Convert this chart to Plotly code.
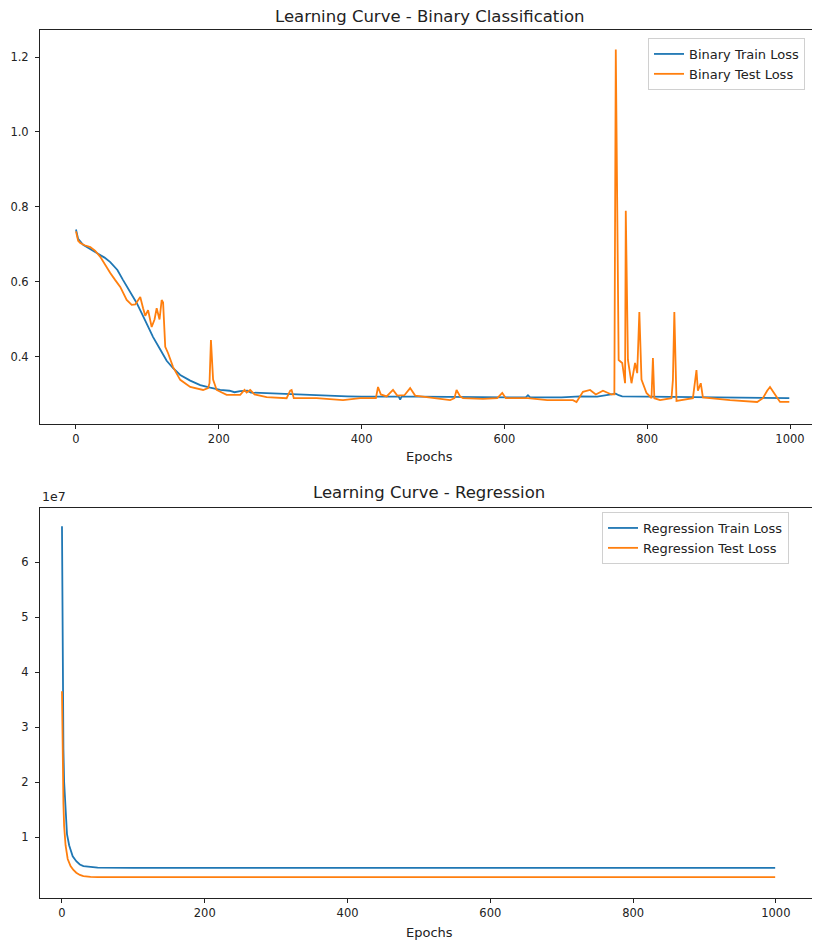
import plotly.graph_objects as go

# ---- Binary classification data ----
bin_train_epochs = [0, 3, 10, 20, 29, 40, 48, 58, 66, 75, 85, 95, 108, 118, 127, 136, 146, 160, 174, 188,
                    202, 215, 222, 230, 240, 245, 258, 280, 300, 320, 350, 380, 400, 430, 452, 454, 456, 480,
                    524, 560, 600, 630, 633, 636, 680, 706, 730, 756, 760, 765, 800, 840, 900, 950, 999]
bin_train_loss = [0.74, 0.715, 0.699, 0.688, 0.677, 0.665, 0.653, 0.632, 0.605, 0.577, 0.544, 0.505, 0.453,
                  0.42, 0.39, 0.37, 0.352, 0.337, 0.325, 0.318, 0.312, 0.31, 0.306, 0.309, 0.31, 0.305, 0.304,
                  0.302, 0.3, 0.298, 0.296, 0.295, 0.294, 0.294, 0.294, 0.286, 0.294, 0.294, 0.293, 0.293,
                  0.292, 0.292, 0.298, 0.292, 0.292, 0.295, 0.294, 0.302, 0.298, 0.295, 0.294, 0.293, 0.292,
                  0.291, 0.29]

bin_test_epochs = [0, 3, 6, 12, 20, 27, 34, 41, 48, 55, 62, 71, 78, 83, 87, 90, 94, 97, 101, 106, 110, 113,
                   117, 120, 122, 125, 129, 136, 146, 160, 178, 185, 187, 189, 192, 197, 211, 230, 236, 239,
                   244, 250, 267, 295, 300, 302, 305, 337, 374, 398, 420, 423, 427, 435, 444, 450, 460, 468,
                   475, 500, 524, 530, 533, 538, 542, 570, 590, 597, 602, 633, 660, 696, 701, 710, 720, 728,
                   738, 750, 754, 756, 760, 765, 769, 770, 773, 778, 783, 786, 789, 792, 799, 806, 808, 810,
                   818, 834, 836, 838, 841, 864, 867, 869, 871, 875, 878, 900, 916, 954, 962, 968, 972, 979,
                   986, 999]
bin_test_loss = [0.735, 0.71, 0.704, 0.698, 0.693, 0.683, 0.667, 0.645, 0.624, 0.605, 0.587, 0.552, 0.539,
                 0.54, 0.55, 0.56, 0.53, 0.51, 0.525, 0.48, 0.5, 0.53, 0.5, 0.552, 0.545, 0.427, 0.41, 0.373,
                 0.339, 0.32, 0.312, 0.317, 0.33, 0.445, 0.34, 0.312, 0.299, 0.299, 0.312, 0.305, 0.312, 0.3,
                 0.293, 0.29, 0.31, 0.312, 0.29, 0.29, 0.285, 0.29, 0.29, 0.32, 0.3, 0.295, 0.312, 0.297,
                 0.298, 0.317, 0.297, 0.29, 0.285, 0.29, 0.312, 0.295, 0.29, 0.288, 0.29, 0.304, 0.29, 0.29,
                 0.285, 0.285, 0.28, 0.307, 0.312, 0.3, 0.31, 0.3, 0.3, 1.22, 0.392, 0.384, 0.33, 0.79, 0.392,
                 0.33, 0.384, 0.357, 0.52, 0.34, 0.304, 0.29, 0.397, 0.29, 0.285, 0.29, 0.339, 0.52, 0.283,
                 0.29, 0.33, 0.365, 0.31, 0.33, 0.292, 0.287, 0.285, 0.28, 0.29, 0.31, 0.32, 0.3, 0.28, 0.28]

# ---- Regression data ----
reg_train_epochs = [0, 1, 2, 3, 4, 5, 7, 10, 15, 20, 25, 30, 40, 50, 100, 999]
reg_train_loss = [6.65e7, 4.0e7, 2.6e7, 2.0e7, 1.7e7, 1.45e7, 1.05e7, 0.85e7, 0.65e7, 0.56e7, 0.5e7,
                  0.47e7, 0.45e7, 0.443e7, 0.44e7, 0.44e7]
reg_test_epochs = [0, 1, 2, 3, 4, 5, 8, 12, 16, 20, 25, 30, 40, 50, 100, 999]
reg_test_loss = [3.65e7, 2.3e7, 1.6e7, 1.2e7, 0.98e7, 0.85e7, 0.6e7, 0.47e7, 0.4e7, 0.35e7, 0.31e7,
                 0.29e7, 0.275e7, 0.27e7, 0.27e7, 0.27e7]

top_yticks = [0.4, 0.6, 0.8, 1.0, 1.2]
top_yticklabels = ["0.4", "0.6", "0.8", "1.0", "1.2"]
bot_yticks = [1e7, 2e7, 3e7, 4e7, 5e7, 6e7]
bot_yticklabels = ["1", "2", "3", "4", "5", "6"]
xticks = [0, 200, 400, 600, 800, 1000]

BLUE = "#1f77b4"
ORANGE = "#ff7f0e"
FONT = "DejaVu Sans"
TXT = "#222"

fig = go.Figure()
fig.add_trace(go.Scatter(x=bin_train_epochs, y=bin_train_loss, mode="lines", name="Binary Train Loss",
                         line=dict(color=BLUE, width=1.8), xaxis="x", yaxis="y", legend="legend"))
fig.add_trace(go.Scatter(x=bin_test_epochs, y=bin_test_loss, mode="lines", name="Binary Test Loss",
                         line=dict(color=ORANGE, width=1.8), xaxis="x", yaxis="y", legend="legend"))
fig.add_trace(go.Scatter(x=reg_train_epochs, y=reg_train_loss, mode="lines", name="Regression Train Loss",
                         line=dict(color=BLUE, width=1.8), xaxis="x2", yaxis="y2", legend="legend2"))
fig.add_trace(go.Scatter(x=reg_test_epochs, y=reg_test_loss, mode="lines", name="Regression Test Loss",
                         line=dict(color=ORANGE, width=1.8), xaxis="x2", yaxis="y2", legend="legend2"))

axis_common = dict(showline=True, mirror=True, linecolor=TXT, linewidth=1, ticks="outside",
                   ticklen=4, tickcolor=TXT, showgrid=False, zeroline=False, automargin=False,
                   tickfont=dict(family=FONT, size=11.5, color=TXT))

legend_common = dict(xanchor="left", yanchor="top", bgcolor="rgba(255,255,255,0.8)",
                     bordercolor="#d0d0d0", borderwidth=1, font=dict(family=FONT, size=13, color=TXT),
                     tracegroupgap=0)

# page body adds an 8px offset, so the figure is 8px smaller and margins shifted accordingly
fig.update_layout(
    width=812, height=933,
    margin=dict(l=32, r=2, t=22, b=43, autoexpand=False),
    paper_bgcolor="white", plot_bgcolor="white",
    font=dict(family=FONT, size=11.5, color=TXT),
    xaxis=dict(domain=[0, 1], anchor="y", range=[-50.4, 1039.2], tickvals=xticks, **axis_common),
    yaxis=dict(domain=[0.5461, 1], anchor="x", range=[0.2213, 1.272], tickvals=top_yticks,
               ticktext=top_yticklabels, ticklabelstandoff=4, **axis_common),
    xaxis2=dict(domain=[0, 1], anchor="y2", range=[-30.8, 1059], tickvals=xticks, **axis_common),
    yaxis2=dict(domain=[0, 0.4493], anchor="x2", range=[-0.109e7, 6.982e7], tickvals=bot_yticks,
                ticktext=bot_yticklabels, ticklabelstandoff=4, **axis_common),
    legend=dict(x=0.7815, y=0.9908, **legend_common),
    legend2=dict(x=0.7224, y=0.4447, **legend_common),
    annotations=[
        dict(text="Learning Curve - Binary Classification", xref="paper", yref="paper", x=0.5, y=1.0161,
             xanchor="center", yanchor="middle", showarrow=False, font=dict(family=FONT, size=16.5, color=TXT)),
        dict(text="Learning Curve - Regression", xref="paper", yref="paper", x=0.5, y=0.4677,
             xanchor="center", yanchor="middle", showarrow=False, font=dict(family=FONT, size=16.5, color=TXT)),
        dict(text="Epochs", xref="paper", yref="paper", x=0.5, y=0.5081,
             xanchor="center", yanchor="middle", showarrow=False, font=dict(family=FONT, size=13, color=TXT)),
        dict(text="Epochs", xref="paper", yref="paper", x=0.5, y=-0.0403,
             xanchor="center", yanchor="middle", showarrow=False, font=dict(family=FONT, size=13, color=TXT)),
        dict(text="1e7", xref="paper", yref="paper", x=0.0, y=0.462, xanchor="left", yanchor="middle",
             showarrow=False, font=dict(family=FONT, size=12.5, color=TXT)),
    ],
    showlegend=True,
)

fig.write_html("out.html")
